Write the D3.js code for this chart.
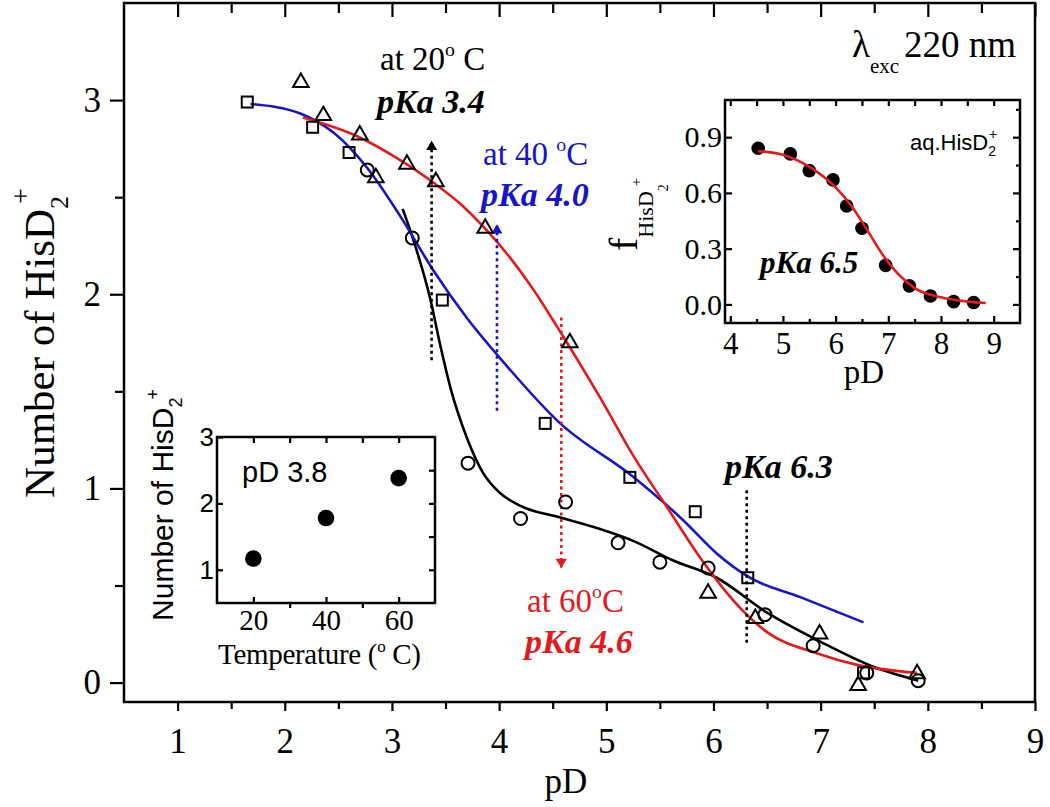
<!DOCTYPE html>
<html><head><meta charset="utf-8">
<script src="https://cdn.jsdelivr.net/npm/d3@7"></script>
<style>body{margin:0;background:#fff;} svg{display:block;}</style>
</head><body>
<svg id="chart" width="1050" height="807"></svg>
<script>
// ---------- main plot data (pD vs number of HisD2+) ----------
const circPD = [2.77, 3.19, 3.71, 4.20, 4.62, 5.11, 5.50, 5.95, 6.48, 6.93, 7.43, 7.91];
const circN  = [2.64, 2.29, 1.13, 0.845, 0.93, 0.72, 0.62, 0.59, 0.35, 0.19, 0.05, 0.01];
const sqPD = [1.65, 2.26, 2.60, 3.47, 4.43, 5.22, 5.83, 6.32, 7.40];
const sqN  = [2.99, 2.86, 2.73, 1.97, 1.335, 1.057, 0.88, 0.54, 0.05];
const triPD = [2.15, 2.36, 2.70, 2.85, 3.14, 3.41, 3.87, 4.66, 5.95, 6.39, 6.99, 7.35, 7.90];
const triN  = [3.09, 2.92, 2.82, 2.60, 2.67, 2.58, 2.34, 1.75, 0.46, 0.33, 0.25, -0.015, 0.046];
// fitted curves
const fit20PD = [3.10, 3.20, 3.36, 3.45, 3.55, 3.70, 3.85, 4.00, 4.20, 4.57, 5.00, 5.25, 5.62, 6.03, 6.50, 7.00, 7.50, 7.91];
const fit20N  = [2.44, 2.28, 1.97, 1.74, 1.51, 1.26, 1.08, 0.98, 0.91, 0.85, 0.78, 0.73, 0.63, 0.54, 0.36, 0.21, 0.08, 0.01];
const fit40PD = [1.68, 2.15, 2.46, 2.77, 3.08, 3.39, 3.71, 4.01, 4.57, 5.25, 5.72, 6.03, 6.34, 6.81, 7.40];
const fit40N  = [2.98, 2.93, 2.83, 2.65, 2.40, 2.12, 1.87, 1.67, 1.335, 1.06, 0.835, 0.665, 0.54, 0.44, 0.31];
const fit60PD = [2.17, 2.69, 3.05, 3.40, 3.65, 3.90, 4.10, 4.30, 4.60, 4.94, 5.25, 5.57, 5.88, 6.19, 6.50, 6.97, 7.35, 7.90];
const fit60N  = [2.91, 2.81, 2.70, 2.57, 2.46, 2.32, 2.19, 2.04, 1.78, 1.47, 1.17, 0.90, 0.64, 0.42, 0.26, 0.15, 0.09, 0.05];
// pKa marker lines: pD, from, to
const markPD   = [3.37, 3.98, 4.58, 6.31];
const markFrom = [1.66, 1.40, 1.88, 0.99];
const markTo   = [2.79, 2.36, 0.59, 0.19];
const mainXTicks = [1, 2, 3, 4, 5, 6, 7, 8, 9];
const mainYTicks = [0, 1, 2, 3];

// ---------- inset 1 (aq. HisD2+) ----------
const in1PD = [4.53, 5.14, 5.50, 5.95, 6.21, 6.50, 6.95, 7.40, 7.80, 8.24, 8.62];
const in1F  = [0.84, 0.81, 0.72, 0.67, 0.53, 0.41, 0.21, 0.10, 0.045, 0.015, 0.01];
const in1FitPD = [4.53, 5.0, 5.5, 6.0, 6.3, 6.6, 6.9, 7.2, 7.5, 8.0, 8.5, 8.85];
const in1FitF  = [0.825, 0.805, 0.74, 0.63, 0.53, 0.40, 0.265, 0.16, 0.088, 0.038, 0.015, 0.008];
const in1XTicks = [4, 5, 6, 7, 8, 9];
const in1YTicks = [0.0, 0.3, 0.6, 0.9];

// ---------- inset 2 (pD 3.8 vs temperature) ----------
const in2T = [20, 40, 60];
const in2N = [1.17, 1.78, 2.38];
const in2XTicks = [20, 40, 60];
const in2YTicks = [1, 2, 3];

const BLUE = "#1616c8", RED = "#e31a1c";
const SERIF = "Liberation Serif";
const SANS = "Liberation Sans";

const svg = d3.select('#chart');
svg.append('rect').attr('width',1050).attr('height',807).attr('fill','#fff');

const defs = svg.append('defs');
function arrowMarker(id, color){
  defs.append('marker').attr('id',id).attr('markerUnits','userSpaceOnUse')
    .attr('viewBox','0 0 10 12').attr('refX',10).attr('refY',6)
    .attr('markerWidth',12).attr('markerHeight',11).attr('orient','auto')
    .append('path').attr('d','M0,0 L10,6 L0,12 Z').attr('fill',color);
}
arrowMarker('ak','#000'); arrowMarker('ab',BLUE); arrowMarker('ar',RED);

// ---------- main plot ----------
const M = {l:124, r:1035, t:3, b:702};
const x = d3.scaleLinear().domain([0.5, 9]).range([M.l, M.r]);
const y = d3.scaleLinear().domain([-0.1, 3.5]).range([M.b, M.t]);
const halfX = d3.range(1.5, 9, 1), halfY = [0.5, 1.5, 2.5];

function styleAxis(g, size, fam){
  g.select('.domain').remove();
  g.selectAll('line').attr('stroke','#000').attr('stroke-width',2.2);
  g.selectAll('text').attr('font-family',fam||SERIF).attr('font-size',size).attr('fill','#000');
}
// left axis (outward ticks)
svg.append('g').attr('transform',`translate(${M.l},0)`)
  .call(d3.axisLeft(y).tickValues(mainYTicks).tickSize(14).tickPadding(9).tickFormat(d3.format('d')))
  .call(g=>styleAxis(g,35));
svg.append('g').attr('transform',`translate(${M.l},0)`)
  .call(d3.axisLeft(y).tickValues(halfY).tickSize(9).tickFormat(''))
  .call(g=>styleAxis(g,35));
// bottom axis (outward)
svg.append('g').attr('transform',`translate(0,${M.b})`)
  .call(d3.axisBottom(x).tickValues(mainXTicks).tickSize(9).tickPadding(17).tickFormat(d3.format('d')))
  .call(g=>styleAxis(g,35));
svg.append('g').attr('transform',`translate(0,${M.b})`)
  .call(d3.axisBottom(x).tickValues(halfX).tickSize(7).tickFormat(''))
  .call(g=>styleAxis(g,35));
// top axis (inward)
svg.append('g').attr('transform',`translate(0,${M.t})`)
  .call(d3.axisBottom(x).tickValues(mainXTicks).tickSize(14).tickFormat(''))
  .call(g=>styleAxis(g,35));
svg.append('g').attr('transform',`translate(0,${M.t})`)
  .call(d3.axisBottom(x).tickValues(halfX).tickSize(10).tickFormat(''))
  .call(g=>styleAxis(g,35));
// frame
svg.append('rect').attr('x',M.l).attr('y',M.t).attr('width',M.r-M.l).attr('height',M.b-M.t)
  .attr('fill','none').attr('stroke','#000').attr('stroke-width',2.5);

// axis titles
svg.append('text').attr('x',566).attr('y',793).attr('text-anchor','middle')
  .attr('font-family',SERIF).attr('font-size',35).text('pD');
const yt = svg.append('text').attr('transform','translate(54,343) rotate(-90)')
  .attr('text-anchor','middle').attr('font-family',SERIF).attr('font-size',43);
yt.append('tspan').text('Number of HisD');
yt.append('tspan').attr('font-size',26).attr('dy',14).text('2');
yt.append('tspan').attr('font-size',28).attr('dx',-8).attr('dy',-38).text('+');

// curves
const line = d3.line().curve(d3.curveMonotoneX).x(d=>x(d[0])).y(d=>y(d[1]));
function drawFit(px, py, color){
  svg.append('path').datum(px.map((v,i)=>[v,py[i]])).attr('d',line)
    .attr('fill','none').attr('stroke',color).attr('stroke-width',2.6);
}
drawFit(fit20PD, fit20N, '#000');
drawFit(fit40PD, fit40N, BLUE);
drawFit(fit60PD, fit60N, RED);

// pKa dotted lines
const markColor = ['#000', BLUE, RED, '#000'];
const markArrow = ['url(#ak)','url(#ab)','url(#ar)',null];
markPD.forEach((p,i)=>{
  const l = svg.append('line').attr('x1',x(p)).attr('x2',x(p))
    .attr('y1',y(markFrom[i])).attr('y2',y(markTo[i]))
    .attr('stroke',markColor[i]).attr('stroke-width',2.6).attr('stroke-dasharray','3,3.5');
  if(markArrow[i]) l.attr('marker-end',markArrow[i]);
});

// markers
const g = svg.append('g').attr('fill','none').attr('stroke','#000').attr('stroke-width',2);
g.selectAll('.c').data(circPD).enter().append('circle')
  .attr('cx',d=>x(d)).attr('cy',(d,i)=>y(circN[i])).attr('r',6.5);
g.selectAll('.s').data(sqPD).enter().append('rect')
  .attr('x',d=>x(d)-5.5).attr('y',(d,i)=>y(sqN[i])-5.5).attr('width',11).attr('height',11);
const tri = d3.symbol(d3.symbolTriangle, 105);
g.selectAll('.t').data(triPD).enter().append('path').attr('d',tri)
  .attr('transform',(d,i)=>`translate(${x(d)},${y(triN[i])})`);

// annotations
function degText(xp, yp, before, after, color, size){
  const t = svg.append('text').attr('x',xp).attr('y',yp).attr('font-family',SERIF)
    .attr('font-size',size).attr('fill',color);
  t.append('tspan').text(before);
  t.append('tspan').attr('font-size',size*0.6).attr('dy',-size*0.42).text('o');
  t.append('tspan').attr('dy',size*0.42).text(after);
  return t;
}
function pkaText(xp, yp, s, color, size){
  svg.append('text').attr('x',xp).attr('y',yp).attr('font-family',SERIF)
    .attr('font-size',size).attr('font-weight','bold').attr('font-style','italic')
    .attr('fill',color).text(s);
}
degText(380, 70, 'at 20', ' C', '#000', 33);
pkaText(377, 113, 'pKa 3.4', '#000', 34);
degText(483, 165, 'at 40 ', 'C', BLUE, 33);
pkaText(481, 206, 'pKa 4.0', BLUE, 34);
degText(527, 612, 'at 60', 'C', RED, 33);
pkaText(525, 653, 'pKa 4.6', RED, 34);
pkaText(725, 478, 'pKa 6.3', '#000', 34);

// lambda label
const lt = svg.append('text').attr('x',852).attr('y',57).attr('font-family',SERIF).attr('font-size',37);
lt.append('tspan').text('λ');
lt.append('tspan').attr('font-size',21).attr('dy',16).text('exc');
lt.append('tspan').attr('dy',-16).attr('dx',5).text('220 nm');

// ---------- inset 1 ----------
const I1 = {l:725, r:1020, t:100, b:323};
const x1 = d3.scaleLinear().domain([3.9, 9.5]).range([I1.l, I1.r]);
const y1 = d3.scaleLinear().domain([-0.1, 1.1]).range([I1.b, I1.t]);
svg.append('rect').attr('x',I1.l).attr('y',I1.t).attr('width',I1.r-I1.l).attr('height',I1.b-I1.t).attr('fill','#fff');
const i1xMinor = d3.range(4.5, 9.5, 1), i1yMinor = [0.15, 0.45, 0.75, 1.05];
svg.append('g').attr('transform',`translate(0,${I1.b})`)
  .call(d3.axisBottom(x1).tickValues(in1XTicks).tickSizeInner(-7).tickSizeOuter(0).tickPadding(9).tickFormat(d3.format('d')))
  .call(g=>styleAxis(g,31));
svg.append('g').attr('transform',`translate(0,${I1.b})`)
  .call(d3.axisBottom(x1).tickValues(i1xMinor).tickSizeInner(-4).tickSizeOuter(0).tickFormat(''))
  .call(g=>styleAxis(g,30));
svg.append('g').attr('transform',`translate(0,${I1.t})`)
  .call(d3.axisTop(x1).tickValues(in1XTicks.concat(i1xMinor)).tickSizeInner(-6).tickSizeOuter(0).tickFormat(''))
  .call(g=>styleAxis(g,30));
svg.append('g').attr('transform',`translate(${I1.l},0)`)
  .call(d3.axisLeft(y1).tickValues(in1YTicks).tickSizeInner(-7).tickSizeOuter(0).tickPadding(3).tickFormat(d3.format('.1f')))
  .call(g=>styleAxis(g,30));
svg.append('g').attr('transform',`translate(${I1.r},0)`)
  .call(d3.axisRight(y1).tickValues(in1YTicks).tickSizeInner(-7).tickSizeOuter(0).tickFormat(''))
  .call(g=>styleAxis(g,29));
svg.append('g').attr('transform',`translate(${I1.r},0)`)
  .call(d3.axisRight(y1).tickValues(i1yMinor).tickSizeInner(-4).tickSizeOuter(0).tickFormat(''))
  .call(g=>styleAxis(g,29));
svg.append('rect').attr('x',I1.l).attr('y',I1.t).attr('width',I1.r-I1.l).attr('height',I1.b-I1.t)
  .attr('fill','none').attr('stroke','#000').attr('stroke-width',2.5);
svg.append('text').attr('x',864).attr('y',383).attr('text-anchor','middle')
  .attr('font-family',SERIF).attr('font-size',33).text('pD');
const ft = svg.append('text').attr('transform','translate(637,251) rotate(-90)')
  .attr('font-family',SERIF).attr('font-size',40);
ft.append('tspan').text('f');
ft.append('tspan').attr('font-size',22).attr('dy',16).text('HisD');
ft.append('tspan').attr('font-size',14).attr('dy',15).text('2');
ft.append('tspan').attr('font-size',15).attr('dx',-2).attr('dy',-27).text('+');

const line1 = d3.line().curve(d3.curveMonotoneX).x(d=>x1(d[0])).y(d=>y1(d[1]));
svg.selectAll('.i1c').data(in1PD).enter().append('circle')
  .attr('cx',d=>x1(d)).attr('cy',(d,i)=>y1(in1F[i])).attr('r',6.8).attr('fill','#000');
svg.append('path').datum(in1FitPD.map((v,i)=>[v,in1FitF[i]])).attr('d',line1)
  .attr('fill','none').attr('stroke',RED).attr('stroke-width',2.6);
const aq = svg.append('text').attr('x',910).attr('y',150).attr('font-family',SANS).attr('font-size',22);
aq.append('tspan').text('aq.HisD');
aq.append('tspan').attr('font-size',14).attr('dy',6).text('2');
aq.append('tspan').attr('font-size',14).attr('dx',-7).attr('dy',-17).text('+');
pkaText(760, 273, 'pKa 6.5', '#000', 31);

// ---------- inset 2 ----------
const I2 = {l:217, r:435, t:437, b:603};
const x2 = d3.scaleLinear().domain([10, 70]).range([I2.l, I2.r]);
const y2 = d3.scaleLinear().domain([0.5, 3]).range([I2.b, I2.t]);
svg.append('g').attr('transform',`translate(0,${I2.b})`)
  .call(d3.axisBottom(x2).tickValues(in2XTicks).tickSizeInner(-6).tickSizeOuter(0).tickPadding(6).tickFormat(d3.format('d')))
  .call(g=>styleAxis(g,29));
svg.append('g').attr('transform',`translate(0,${I2.b})`)
  .call(d3.axisBottom(x2).tickValues([30,50]).tickSizeInner(5).tickSizeOuter(0).tickFormat(''))
  .call(g=>styleAxis(g,30));
svg.append('g').attr('transform',`translate(0,${I2.t})`)
  .call(d3.axisTop(x2).tickValues([20,30,40,50,60]).tickSizeInner(-6).tickSizeOuter(0).tickFormat(''))
  .call(g=>styleAxis(g,30));
svg.append('g').attr('transform',`translate(${I2.l},0)`)
  .call(d3.axisLeft(y2).tickValues(in2YTicks).tickSizeInner(-6).tickSizeOuter(0).tickPadding(3).tickFormat(d3.format('d')))
  .call(g=>styleAxis(g,26,SANS));
svg.append('g').attr('transform',`translate(${I2.r},0)`)
  .call(d3.axisRight(y2).tickValues([1,1.5,2,2.5]).tickSizeInner(-6).tickSizeOuter(0).tickFormat(''))
  .call(g=>styleAxis(g,25));
svg.append('rect').attr('x',I2.l).attr('y',I2.t).attr('width',I2.r-I2.l).attr('height',I2.b-I2.t)
  .attr('fill','none').attr('stroke','#000').attr('stroke-width',2.5);
svg.selectAll('.i2c').data(in2T).enter().append('circle')
  .attr('cx',d=>x2(d)).attr('cy',(d,i)=>y2(in2N[i])).attr('r',8.3).attr('fill','#000');
svg.append('text').attr('x',242).attr('y',482).attr('font-family',SANS).attr('font-size',29).text('pD 3.8');
const tt = svg.append('text').attr('x',218).attr('y',664).attr('font-family',SERIF).attr('font-size',29)
  .attr('letter-spacing',-0.3);
tt.append('tspan').text('Temperature (');
tt.append('tspan').attr('font-size',17).attr('dy',-12).text('o');
tt.append('tspan').attr('dy',12).text(' C)');
const nt = svg.append('text').attr('transform','translate(173,505) rotate(-90)')
  .attr('text-anchor','middle').attr('font-family',SANS).attr('font-size',30);
nt.append('tspan').text('Number  of HisD');
nt.append('tspan').attr('font-size',18).attr('dy',9).text('2');
nt.append('tspan').attr('font-size',18).attr('dx',-2).attr('dy',-23).text('+');
</script>
</body></html>
